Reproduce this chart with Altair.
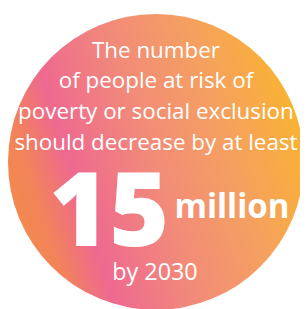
import altair as alt
import pandas as pd

# --- content -------------------------------------------------------------
headline_lines = [
    "The number",
    "of people at risk of",
    "poverty or social exclusion",
    "should decrease by at least",
]
big_number = "15"
unit_word = "million"
deadline = "by 2030"

# gradient of the disc (left orange -> pink band -> salmon -> yellow-orange)
gradient_offsets = [0.0, 0.08, 0.22, 0.5, 0.75, 1.0]
gradient_colors = ["#F3894E", "#F2835A", "#EE6990", "#F28C78", "#F5A060", "#F9B234"]

# --- layout (page pixel coordinates) ------------------------------------
W, H = 300, 301
xs = alt.Scale(domain=[8, 8 + W], range=[0, W])
ys = alt.Scale(domain=[8, 8 + H], range=[0, H])

disc = pd.DataFrame({"x": [160], "y": [162]})
disc_diameter = 304

head = pd.DataFrame({
    "text": headline_lines,
    "x": [160] * len(headline_lines),
    "y": [55, 86.5, 118, 149.5],
})
num = pd.DataFrame({"text": [big_number], "x": [112], "y": [248]})
unit = pd.DataFrame({"text": [unit_word], "x": [179], "y": [220]})
foot = pd.DataFrame({"text": [deadline], "x": [159], "y": [283]})

grad = alt.Gradient(
    gradient="linear",
    stops=[alt.GradientStop(color=c, offset=o) for c, o in zip(gradient_colors, gradient_offsets)],
    x1=0.024, y1=0.65, x2=0.976, y2=0.35,
)

def enc(ch):
    return ch.encode(
        x=alt.X("x:Q", scale=xs, axis=None),
        y=alt.Y("y:Q", scale=ys, axis=None),
    )

circle = enc(alt.Chart(disc).mark_point(
    shape="circle", filled=True, size=disc_diameter ** 2, fill=grad, opacity=1, strokeWidth=0
))

head_t = enc(alt.Chart(head).mark_text(
    align="center", baseline="alphabetic", font="Open Sans", fontSize=23, color="white"
)).encode(text="text:N")

num_t = enc(alt.Chart(num).mark_text(
    align="center", baseline="alphabetic", font="Open Sans", fontSize=105, fontWeight=800, color="white"
)).encode(text="text:N")

unit_t = enc(alt.Chart(unit).mark_text(
    align="left", baseline="alphabetic", font="Open Sans", fontSize=34, fontWeight="bold", color="white"
)).encode(text="text:N")

foot_t = enc(alt.Chart(foot).mark_text(
    align="center", baseline="alphabetic", font="Open Sans", fontSize=24, color="white"
)).encode(text="text:N")

chart = alt.layer(circle, head_t, num_t, unit_t, foot_t).properties(
    width=W, height=H, padding=0, autosize=alt.AutoSizeParams(type="none")
).configure_view(stroke=None)

chart.save("out.html", embed_options={"renderer": "svg", "actions": False})
